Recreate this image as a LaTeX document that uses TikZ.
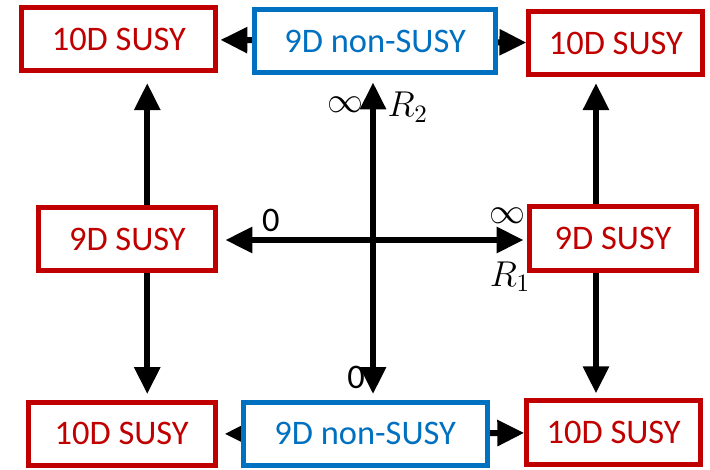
\documentclass[tikz,border=0pt]{standalone}
\usepackage{fontspec}
\setmainfont{Carlito}
\usetikzlibrary{arrows.meta,backgrounds}

\definecolor{susyred}{HTML}{C00000}
\definecolor{nonblue}{HTML}{0070C0}

\begin{document}
\begin{tikzpicture}[
        font=\fontsize{13.8}{16}\selectfont,
        susy/.style={draw=susyred,text=susyred,line width=2pt,fill=white,minimum height=0.89cm,inner sep=0pt},
        nonsusy/.style={draw=nonblue,text=nonblue,line width=2pt,fill=white,minimum height=0.89cm,inner sep=0pt},
        arr/.style={line width=2.4pt,-{Triangle[length=10.8pt,width=10pt]}},
        darr/.style={line width=2.4pt,{Triangle[length=10.8pt,width=10pt]}-{Triangle[length=10.8pt,width=10pt]}}
    ]
        \useasboundingbox (-5.254,-3.239) rectangle (4.746,3.380);

        \node[susy,minimum width=2.73cm] (tl) at (-3.58,2.83){10D SUSY};
        \node[nonsusy,minimum width=3.39cm] (tc) at (0.03,2.80){9D non-SUSY};
        \node[susy,minimum width=2.45cm] (tr) at (3.42,2.77){10D SUSY};

        \node[susy,minimum width=2.49cm] (ml) at (-3.46,0.01){9D SUSY};
        \node[susy,minimum width=2.35cm] (mr) at (3.38,0.02){9D SUSY};

        \node[susy,minimum width=2.63cm] (bl) at (-3.54,-2.73){10D SUSY};
        \node[nonsusy,minimum width=3.44cm] (bc) at (-0.11,-2.73){9D non-SUSY};
        \node[susy,minimum width=2.45cm] (br) at (3.39,-2.71){10D SUSY};

        % columns and axes
        \coordinate (cl) at (-3.18,0);
        \coordinate (cr) at (3.14,0);
        \coordinate (ax) at (0,0);

        \begin{pgfonlayer}{background}
            \draw[arr,shorten >=0.14cm] (ml.north -| cl) -- (tl.south -| cl);
            \draw[arr,shorten >=0.08cm] (ml.south -| cl) -- (bl.north -| cl);
            \draw[arr,shorten >=0.08cm] (mr.north -| cr) -- (tr.south -| cr);
            \draw[arr,shorten >=0.07cm] (mr.south -| cr) -- (br.north -| cr);

            \draw[darr,shorten <=0.08cm,shorten >=0.1cm] (bc.north -| ax) -- (tc.south -| ax);
            \draw[darr,shorten <=0.1cm,shorten >=0.05cm] (ml.east |- ax) -- (mr.west |- ax);

            \draw[arr,shorten >=0.03cm] (tc) -- (tl);
            \draw[arr] (tc) -- (tr);
            \draw[arr,shorten >=0.1cm] (bc) -- (bl);
            \draw[arr] (bc) -- (br);
        \end{pgfonlayer}

        % axis labels
        \node (inf2) at (-0.39,1.90){$\infty$};
        \node (r2) at (0.49,1.87){$R_2$};
        \node (zero1) at (-1.44,0.28){0};
        \node (inf1) at (1.90,0.34){$\infty$};
        \node (r1) at (1.93,-0.52){$R_1$};
        \node (zero2) at (-0.24,-1.94){0};
    \end{tikzpicture}
\end{document}
